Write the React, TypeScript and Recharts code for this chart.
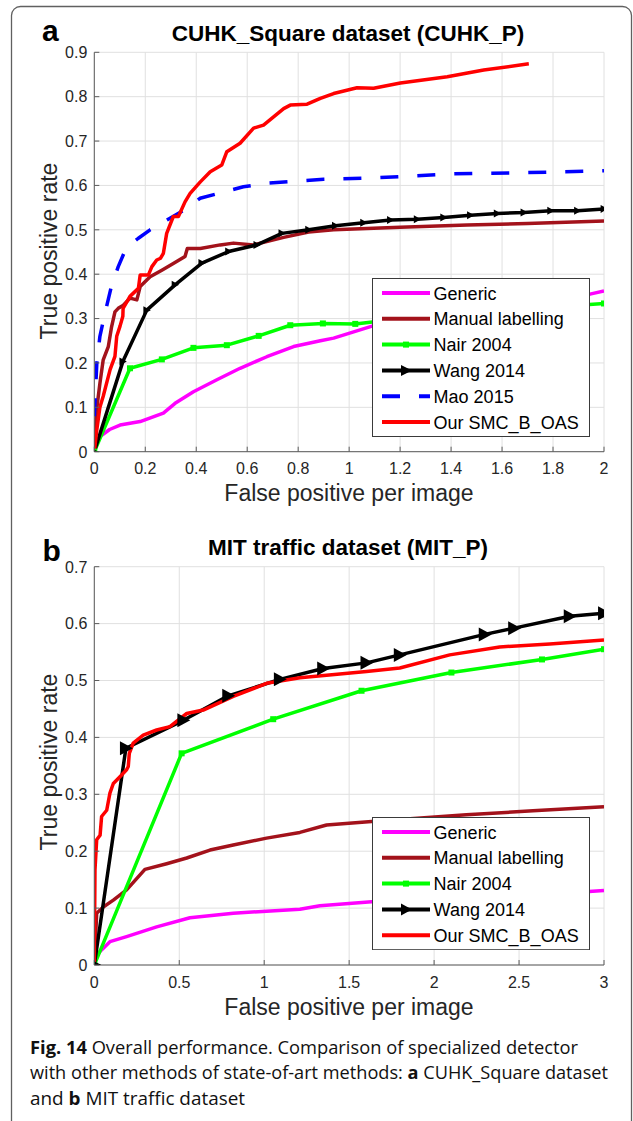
import React from "react";
import { CartesianGrid, Legend, Line, LineChart, XAxis, YAxis } from "recharts";

type Pt = [number, number];

// ---- (a) CUHK_Square dataset ----
const cuhkXTicks = [0, 0.2, 0.4, 0.6, 0.8, 1, 1.2, 1.4, 1.6, 1.8, 2];
const cuhkYTicks = [0, 0.1, 0.2, 0.3, 0.4, 0.5, 0.6, 0.7, 0.8, 0.9];

const cuhkGeneric: Pt[] = [
  [0, 0], [0.01, 0.02], [0.022, 0.034], [0.06, 0.05], [0.101, 0.06], [0.18, 0.068],
  [0.271, 0.087], [0.317, 0.109], [0.389, 0.135], [0.481, 0.162], [0.572, 0.188],
  [0.677, 0.214], [0.782, 0.237], [0.887, 0.25], [0.939, 0.256], [1.09, 0.283],
  [1.3, 0.31], [1.6, 0.335], [1.945, 0.355], [2, 0.362],
];
const cuhkManual: Pt[] = [
  [0, 0], [0.009, 0.094], [0.022, 0.154], [0.035, 0.207], [0.055, 0.237], [0.068, 0.282],
  [0.081, 0.315], [0.094, 0.323], [0.114, 0.33], [0.14, 0.346], [0.167, 0.342], [0.18, 0.372],
  [0.219, 0.394], [0.265, 0.409], [0.31, 0.424], [0.356, 0.44], [0.365, 0.458], [0.416, 0.458],
  [0.494, 0.466], [0.546, 0.47], [0.625, 0.466], [0.743, 0.483], [0.841, 0.495], [0.939, 0.5],
  [1.2, 0.506], [1.463, 0.511], [1.7, 0.514], [2, 0.52],
];
const cuhkNair: Pt[] = [
  [0, 0], [0.14, 0.188], [0.265, 0.208], [0.389, 0.234], [0.52, 0.24], [0.645, 0.261],
  [0.769, 0.285], [0.897, 0.289], [1.024, 0.288], [1.15, 0.296], [1.276, 0.302], [1.4, 0.308],
  [1.53, 0.313], [1.65, 0.318], [1.78, 0.324], [1.9, 0.33], [2, 0.334],
];
const cuhkWang: Pt[] = [
  [0, 0], [0.112, 0.203], [0.206, 0.319], [0.317, 0.376], [0.422, 0.425], [0.527, 0.451],
  [0.638, 0.466], [0.736, 0.492], [0.841, 0.5], [0.946, 0.509], [1.057, 0.516], [1.162, 0.522],
  [1.267, 0.524], [1.371, 0.528], [1.476, 0.533], [1.581, 0.537], [1.686, 0.539], [1.791, 0.543],
  [1.896, 0.543], [2, 0.547],
];
const cuhkMao: Pt[] = [
  [0, 0.08], [0.01, 0.2], [0.022, 0.26], [0.042, 0.312], [0.066, 0.37], [0.094, 0.417],
  [0.125, 0.459], [0.173, 0.481], [0.219, 0.5], [0.297, 0.526], [0.363, 0.548], [0.415, 0.571],
  [0.5, 0.584], [0.585, 0.597], [0.677, 0.605], [0.8, 0.61], [0.9, 0.614], [1.1, 0.617],
  [1.4, 0.626], [1.7, 0.629], [2, 0.633],
];
const cuhkOurs: Pt[] = [
  [0, 0], [0.01, 0.05], [0.022, 0.1], [0.035, 0.125], [0.062, 0.185], [0.081, 0.215],
  [0.088, 0.26], [0.101, 0.283], [0.112, 0.305], [0.113, 0.323], [0.14, 0.35], [0.173, 0.368],
  [0.18, 0.398], [0.212, 0.398], [0.226, 0.417], [0.245, 0.432], [0.26, 0.436], [0.271, 0.447],
  [0.284, 0.492], [0.31, 0.53], [0.33, 0.53], [0.356, 0.563], [0.376, 0.582], [0.416, 0.608],
  [0.455, 0.631], [0.5, 0.646], [0.52, 0.676], [0.572, 0.695], [0.625, 0.729], [0.664, 0.736],
  [0.743, 0.773], [0.769, 0.781], [0.835, 0.783], [0.887, 0.796], [0.939, 0.807], [1.031, 0.82],
  [1.096, 0.819], [1.201, 0.831], [1.385, 0.845], [1.528, 0.86], [1.705, 0.874],
];

// ---- (b) MIT traffic dataset ----
const mitXTicks = [0, 0.5, 1, 1.5, 2, 2.5, 3];
const mitYTicks = [0, 0.1, 0.2, 0.3, 0.4, 0.5, 0.6, 0.7];

const mitGeneric: Pt[] = [
  [0, 0], [0.014, 0.018], [0.092, 0.041], [0.19, 0.05], [0.367, 0.067], [0.563, 0.083],
  [0.818, 0.091], [1.21, 0.098], [1.328, 0.104], [1.632, 0.111], [2.2, 0.118], [2.6, 0.124],
  [2.912, 0.129], [3, 0.131],
];
const mitManual: Pt[] = [
  [0, 0], [0.014, 0.091], [0.053, 0.102], [0.112, 0.114], [0.19, 0.132], [0.298, 0.168],
  [0.426, 0.178], [0.544, 0.188], [0.681, 0.202], [0.818, 0.211], [1.014, 0.223], [1.21, 0.233],
  [1.367, 0.246], [1.632, 0.252], [2.19, 0.264], [2.582, 0.271], [3, 0.278],
];
const mitNair: Pt[] = [
  [0, 0], [0.514, 0.372], [1.053, 0.432], [1.573, 0.482], [2.102, 0.514], [2.635, 0.537], [3, 0.555],
];
const mitWang: Pt[] = [
  [0, 0], [0.186, 0.381], [0.524, 0.43], [0.788, 0.473], [1.092, 0.502], [1.347, 0.521],
  [1.602, 0.531], [1.798, 0.545], [2.298, 0.581], [2.471, 0.592], [2.798, 0.613], [3, 0.618],
];
const mitOurs: Pt[] = [
  [0, 0], [0.004, 0.167], [0.014, 0.22], [0.034, 0.228], [0.043, 0.261], [0.073, 0.272],
  [0.092, 0.302], [0.112, 0.319], [0.151, 0.331], [0.19, 0.343], [0.2, 0.349], [0.206, 0.372],
  [0.229, 0.39], [0.288, 0.404], [0.367, 0.413], [0.445, 0.419], [0.544, 0.442], [0.641, 0.448],
  [0.818, 0.472], [1.014, 0.495], [1.21, 0.505], [1.602, 0.516], [1.798, 0.522], [2.092, 0.545],
  [2.386, 0.559], [2.681, 0.564], [3, 0.571],
];

type Style = { color: string; dash?: string; marker?: "square" | "tri" };
const STYLES: Record<string, Style> = {
  Generic: { color: "#ff00ff" },
  "Manual labelling": { color: "#a3121b" },
  "Nair 2004": { color: "#00ff00", marker: "square" },
  "Wang 2014": { color: "#000000", marker: "tri" },
  "Mao 2015": { color: "#0000ff", dash: "18 19" },
  "Our SMC_B_OAS": { color: "#ff0000" },
};

const cuhkSeries: [string, Pt[]][] = [
  ["Generic", cuhkGeneric],
  ["Manual labelling", cuhkManual],
  ["Nair 2004", cuhkNair],
  ["Wang 2014", cuhkWang],
  ["Mao 2015", cuhkMao],
  ["Our SMC_B_OAS", cuhkOurs],
];
const mitSeries: [string, Pt[]][] = [
  ["Generic", mitGeneric],
  ["Manual labelling", mitManual],
  ["Nair 2004", mitNair],
  ["Wang 2014", mitWang],
  ["Our SMC_B_OAS", mitOurs],
];

const FONT = "'Liberation Sans', Arial, sans-serif";
const AXIS = "#5c5c5c";
const TXT = "#262626";
const PLOT_LEFT = 94.3;
const PLOT_RIGHT = 604;
const Y_W = 40;
const X_H = 30;

function XTick(p: any) {
  return (
    <g>
      <line x1={p.x} y1={p.y} x2={p.x} y2={p.y - 5} stroke={AXIS} />
      <text x={p.x} y={p.y + 22.5} textAnchor="middle" fontSize={16} fontFamily={FONT} fill={TXT}>
        {String(p.payload.value)}
      </text>
    </g>
  );
}

function YTick(p: any) {
  return (
    <g>
      <line x1={p.x} y1={p.y} x2={p.x + 5} y2={p.y} stroke={AXIS} />
      <text x={p.x - 7} y={p.y + 5.8} textAnchor="end" fontSize={16} fontFamily={FONT} fill={TXT}>
        {String(p.payload.value)}
      </text>
    </g>
  );
}

function marker(kind: "square" | "tri", color: string, size: number) {
  return (p: any) => {
    const { cx, cy, index } = p;
    if (kind === "square") {
      const s = size;
      return <rect key={`m${index}`} x={cx - s / 2} y={cy - s / 2} width={s} height={s} fill={color} />;
    }
    const h = size;
    return (
      <path
        key={`m${index}`}
        d={`M${cx - h * 0.85},${cy - h} L${cx + h},${cy} L${cx - h * 0.85},${cy + h} Z`}
        fill={color}
      />
    );
  };
}

function LegendBox({ names, triSize }: { names: string[]; triSize: number }) {
  const rowH = 25.8;
  const h = 30 + (names.length - 1) * rowH;
  return (
    <svg width={218} height={h} style={{ display: "block" }}>
      <rect x={0.5} y={0.5} width={217} height={h - 1} fill="#fff" stroke="#3a3a3a" />
      {names.map((n, i) => {
        const st = STYLES[n];
        const cy = 15 + i * rowH;
        return (
          <g key={n}>
            <line x1={10} y1={cy} x2={58} y2={cy} stroke={st.color} strokeWidth={4} strokeDasharray={st.dash} />
            {st.marker === "square" && <rect x={31} y={cy - 3} width={6} height={6} fill={st.color} />}
            {st.marker === "tri" && (
              <path d={`M${29},${cy - triSize} L${40},${cy} L${29},${cy + triSize} Z`} fill={st.color} />
            )}
            <text x={61.6} y={cy + 6.5} fontSize={18} fontFamily={FONT} fill="#000">
              {n}
            </text>
          </g>
        );
      })}
    </svg>
  );
}

type PanelProps = {
  top: number;
  height: number;
  plotTop: number;
  plotBottom: number;
  xMax: number;
  yMax: number;
  xTicks: number[];
  yTicks: number[];
  series: [string, Pt[]][];
  legendLeft: number;
  legendTop: number;
  triSize: number;
  sqSize: number;
};

function Panel(props: PanelProps) {
  const { top, height, plotTop, plotBottom, xMax, yMax, xTicks, yTicks, series } = props;
  return (
    <div style={{ position: "absolute", left: 0, top }}>
      <LineChart
        width={633}
        height={height}
        margin={{ top: plotTop, right: 633 - PLOT_RIGHT, left: PLOT_LEFT - Y_W, bottom: height - plotBottom - X_H }}
      >
        <CartesianGrid stroke="#e0e0e0" strokeWidth={1} />
        <XAxis
          type="number"
          dataKey="x"
          domain={[0, xMax]}
          ticks={xTicks}
          interval={0}
          allowDataOverflow
          height={X_H}
          tickSize={0}
          tickMargin={0}
          tickLine={false}
          axisLine={{ stroke: AXIS }}
          tick={(p: any) => <XTick {...p} />}
        />
        <YAxis
          type="number"
          domain={[0, yMax]}
          ticks={yTicks}
          interval={0}
          allowDataOverflow
          width={Y_W}
          tickSize={0}
          tickMargin={0}
          tickLine={false}
          axisLine={{ stroke: AXIS }}
          tick={(p: any) => <YTick {...p} />}
        />
        {series.map(([name, pts]) => {
          const st = STYLES[name];
          const data = pts.map(([x, y]) => ({ x, y }));
          const dot = st.marker
            ? marker(st.marker, st.color, st.marker === "tri" ? props.triSize : props.sqSize)
            : false;
          return (
            <Line
              key={name}
              name={name}
              data={data}
              dataKey="y"
              type="linear"
              stroke={st.color}
              strokeWidth={3.5}
              strokeDasharray={st.dash}
              strokeLinejoin="round"
              dot={dot as any}
              activeDot={false}
              isAnimationActive={false}
            />
          );
        })}
        <Legend
          layout="vertical"
          align="center"
          verticalAlign="middle"
          wrapperStyle={{ left: props.legendLeft, top: props.legendTop, width: 218 }}
          content={() => <LegendBox names={series.map((s) => s[0])} triSize={props.triSize === 4 ? 5.5 : 6} />}
        />
      </LineChart>
    </div>
  );
}

export default function App() {
  return (
    <div style={{ position: "absolute", left: 0, top: 0, width: 633, height: 1121, background: "#fff", overflow: "hidden" }}>
      <svg width={633} height={1121} style={{ position: "absolute", left: 0, top: 0 }}>
        <rect x={11.5} y={6.5} width={620} height={1200} rx={9} fill="none" stroke="#606060" strokeWidth={1.3} />
        <g fontFamily={FONT} fill="#000">
          <text x={42} y={41} fontSize={30} fontWeight="bold">a</text>
          <text x={348} y={40.7} fontSize={22.5} fontWeight="bold" textAnchor="middle">
            CUHK_Square dataset (CUHK_P)
          </text>
          <text x={349} y={501} fontSize={23} textAnchor="middle" fill={TXT}>False positive per image</text>
          <text transform="translate(56.7,251) rotate(-90)" fontSize={23} textAnchor="middle" fill={TXT}>
            True positive rate
          </text>
          <text x={42.5} y={560.7} fontSize={30} fontWeight="bold">b</text>
          <text x={348} y={555} fontSize={22.5} fontWeight="bold" textAnchor="middle">
            MIT traffic dataset (MIT_P)
          </text>
          <text x={349} y={1015} fontSize={23} textAnchor="middle" fill={TXT}>False positive per image</text>
          <text transform="translate(56.7,762) rotate(-90)" fontSize={23} textAnchor="middle" fill={TXT}>
            True positive rate
          </text>
        </g>
        <g fontFamily="'Open Sans', 'Noto Sans', sans-serif" fontSize={18} fill="#111">
          <text x={30} y={1054} textLength={548} lengthAdjust="spacingAndGlyphs">
            <tspan fontWeight="bold">Fig. 14</tspan> Overall performance. Comparison of specialized detector
          </text>
          <text x={30} y={1079} textLength={578} lengthAdjust="spacingAndGlyphs">
            with other methods of state-of-art methods: <tspan fontWeight="bold">a</tspan> CUHK_Square dataset
          </text>
          <text x={30} y={1105} textLength={215} lengthAdjust="spacingAndGlyphs">
            and <tspan fontWeight="bold">b</tspan> MIT traffic dataset
          </text>
        </g>
      </svg>
      <Panel
        top={0}
        height={520}
        plotTop={52.3}
        plotBottom={451.7}
        xMax={2}
        yMax={0.9}
        xTicks={cuhkXTicks}
        yTicks={cuhkYTicks}
        series={cuhkSeries}
        legendLeft={371.7}
        legendTop={277.7}
        triSize={4}
        sqSize={6}
      />
      <Panel
        top={520}
        height={500}
        plotTop={46.7}
        plotBottom={445}
        xMax={3}
        yMax={0.7}
        xTicks={mitXTicks}
        yTicks={mitYTicks}
        series={mitSeries}
        legendLeft={371.7}
        legendTop={296.7}
        triSize={7}
        sqSize={6}
      />
    </div>
  );
}
